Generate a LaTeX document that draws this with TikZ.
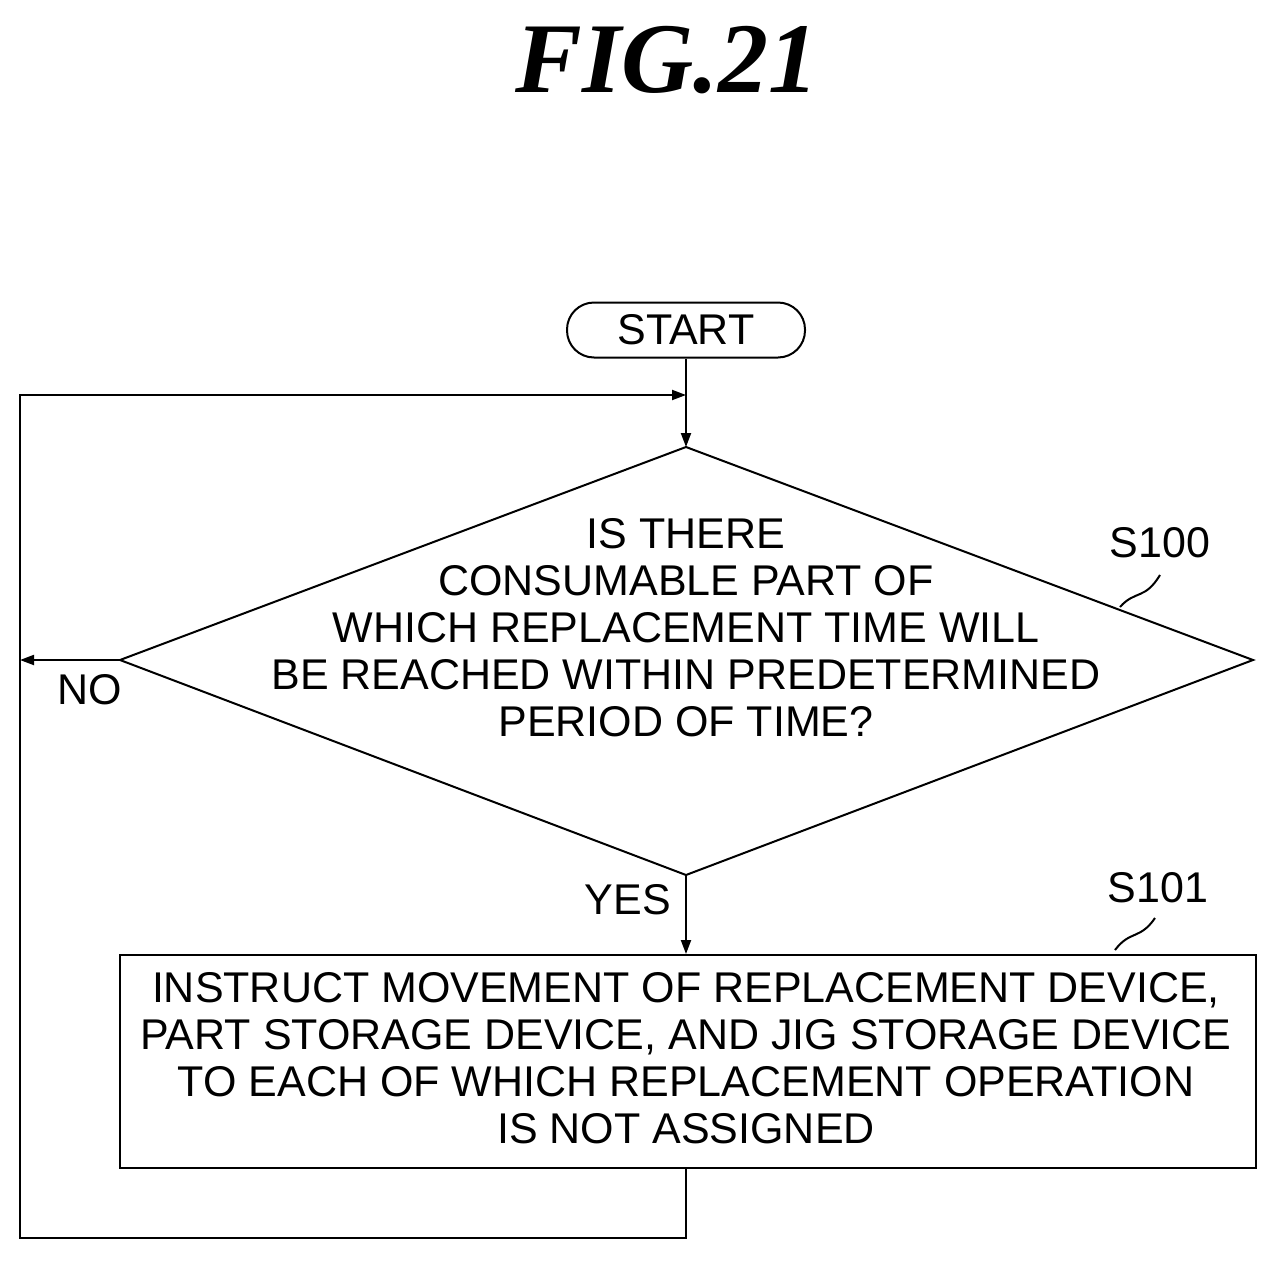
\documentclass[tikz,border=0pt]{standalone}
\usepackage{fontspec}
\setmainfont{Liberation Sans}
\newfontfamily\titlefont{Liberation Serif}
\usetikzlibrary{arrows.meta}
\begin{document}
\begin{tikzpicture}[x=1pt,y=-1pt,line width=2pt,
  arr/.style={-{Triangle[length=14pt,width=10pt]}},
  txt/.style={font=\fontsize{43}{47}\selectfont,align=center,inner sep=0pt}]
\useasboundingbox (0,0) rectangle (1277,1261);
\node[font=\titlefont\bfseries\itshape\fontsize{100}{100}\selectfont] (title) at (667,60) {FIG.21};
\node[draw,rounded corners=27pt,minimum width=238pt,minimum height=55pt,txt] (start) at (686,330) {START};
\coordinate (dt) at (686,447); \coordinate (dl) at (120,660);
\coordinate (dr) at (1253,660); \coordinate (db) at (686,875);
\draw (dt)--(dr)--(db)--(dl)--cycle;
\node[txt] (q) at (686,628) {IS THERE\\CONSUMABLE PART OF\\WHICH REPLACEMENT TIME WILL\\BE REACHED WITHIN PREDETERMINED\\PERIOD OF TIME?};
\node[draw,minimum width=1136pt,minimum height=213pt] (box) at (688,1061.5) {};
\node[txt] (bt) at (686,1058) {INSTRUCT MOVEMENT OF REPLACEMENT DEVICE,\\PART STORAGE DEVICE, AND JIG STORAGE DEVICE\\TO EACH OF WHICH REPLACEMENT OPERATION\\IS NOT ASSIGNED};
\node[txt] (s100) at (1160,543) {S100};
\node[txt] (s101) at (1158,888) {S101};
\node[txt] (no) at (90,690) {NO};
\node[txt] (yes) at (628,900) {YES};
\draw (1120,607) .. controls (1135,590) and (1145,600) .. (1160,575);
\draw (1115,950) .. controls (1130,930) and (1140,940) .. (1155,918);
\coordinate (j) at (686,395);
\coordinate (c1) at (686,1238); \coordinate (c2) at (20,1238);
\coordinate (c3) at (20,395); \coordinate (nl) at (20,660);
\draw[arr] (start.south)--(dt);
\draw[arr] (db)--(box.north-|db);
\draw[arr] (dl)--(nl);
\draw[arr] (box.south-|c1)--(c1)--(c2)--(c3)--(j);
\end{tikzpicture}
\end{document}
